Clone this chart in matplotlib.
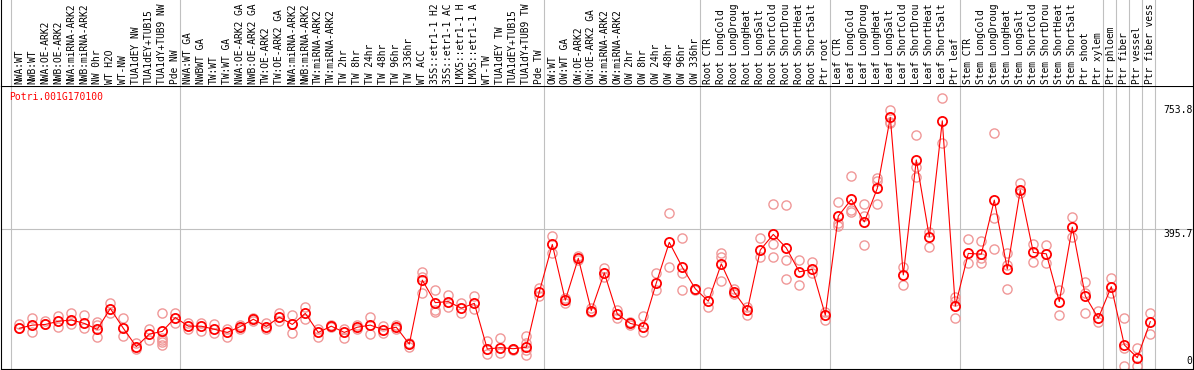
import matplotlib.pyplot as plt
import numpy as np
from matplotlib.transforms import blended_transform_factory

gene = "Potri.001G170100"

# sample names, one list per block (blocks are split by grey lines)
nw_labels = ["NWA:WT", "NWB:WT", "NWA:OE-ARK2", "NWB:OE-ARK2", "NWA:miRNA-ARK2",
             "NWB:miRNA-ARK2", "NW 0hr", "WT H2O", "WT-NW", "TUA1dEY NW",
             "TUA1dEY+TUB15", "TUA1dY+TUB9 NW", "Pde NW"]
tw_labels = ["NWA:WT GA", "NWBWT GA", "TW:WT", "TW:WT GA", "NWA:OE-ARK2 GA",
             "NWB:OE-ARK2 GA", "TW:OE-ARK2", "TW:OE-ARK2 GA", "NWA:miRNA-ARK2",
             "NWB:miRNA-ARK2", "TW:miRNA-ARK2", "TW:miRNA-ARK2", "TW 2hr", "TW 8hr",
             "TW 24hr", "TW 48hr", "TW 96hr", "TW 336hr", "WT ACC", "35S::etr1-1 H2O",
             "35S::etr1-1 ACC", "LMX5::etr1-1 H2O", "LMX5::etr1-1 ACC", "WT-TW",
             "TUA1dEY TW", "TUA1dEY+TUB15", "TUA1dY+TUB9 TW", "Pde TW"]
ow_labels = ["OW:WT", "OW:WT GA", "OW:OE-ARK2", "OW:OE-ARK2 GA", "OW:miRNA-ARK2",
             "OW:miRNA-ARK2", "OW 2hr", "OW 8hr", "OW 24hr", "OW 48hr", "OW 96hr", "OW 336hr"]
root_labels = ["Root CTR", "Root LongCold", "Root LongDrought", "Root LongHeat",
               "Root LongSalt", "Root ShortCold", "Root ShortDrought", "Root ShortHeat",
               "Root ShortSalt", "Ptr root"]
leaf_labels = ["Leaf CTR", "Leaf LongCold", "Leaf LongDrought", "Leaf LongHeat",
               "Leaf LongSalt", "Leaf ShortCold", "Leaf ShortDrought", "Leaf ShortHeat",
               "Leaf ShortSalt", "Ptr leaf"]
stem_labels = ["Stem CTR", "Stem LongCold", "Stem LongDrought", "Stem LongHeat",
               "Stem LongSalt", "Stem ShortCold", "Stem ShortDrought", "Stem ShortHeat",
               "Stem ShortSalt", "Ptr shoot", "Ptr xylem"]
tissue_labels = [["Ptr phloem"], ["Ptr fiber"], ["Ptr vessel"], ["Ptr fiber vessel"]]

blocks = [nw_labels, tw_labels, ow_labels, root_labels, leaf_labels, stem_labels] + tissue_labels
labels = [l for b in blocks for l in b]
max_chars = 14  # the header cuts names to this length

# mean expression per sample
means = [109, 118, 120, 129, 133, 123, 106, 166, 109, 56, 92, 100, 140,
         115, 115, 106, 97, 114, 135, 114, 141, 120, 152, 97, 115, 97, 112, 118, 105, 112,
         63, 248, 183, 186, 167, 181, 49, 53, 50, 54, 214,
         351, 190, 311, 160, 269, 150, 123, 114, 240, 357, 285,
         223, 187, 295, 213, 161, 335, 380, 341, 272, 279, 147,
         433, 481, 416, 513, 718, 263, 595, 373, 708, 173,
         325, 323, 479, 280, 508, 328, 324, 186, 401, 202, 138,
         229, 61, 24, 128]

# individual replicates per sample
replicates = [
    [120, 109], [138, 99], [131, 120], [144, 114], [152, 120], [146, 109], [128, 118, 85],
    [183, 152], [138, 87], [66, 50], [106, 75], [154, 82, 75, 68, 61], [154, 125],
    [123, 106], [125, 102], [121, 94], [106, 85], [118, 106], [138, 131], [123, 106],
    [152, 131], [146, 94], [170, 135], [106, 85], [118, 112], [108, 80], [118, 106],
    [141, 92], [116, 96], [118, 106], [67, 56],
    [272, 258, 210], [220, 162, 157], [205, 170], [183, 154], [202, 164], [73, 34],
    [80, 37], [50, 46], [87, 66, 46, 32], [224, 202],
    [375, 325], [196, 183], [318, 306], [167, 157], [282, 258], [162, 138], [126, 118],
    [144, 99], [268, 220], [441, 285], [369, 268, 220],
    [223, 220], [213, 171], [325, 316, 246], [222, 208], [171, 146], [369, 316],
    [467, 351, 316], [464, 306, 251], [306, 234], [301, 268],
    [157, 133], [474, 414, 404], [549, 451, 446], [467, 433, 349], [542, 535, 467],
    [739, 706, 701], [287, 234], [667, 576, 545], [388, 345], [773, 643],
    [200, 189, 138], [367, 297], [361, 311, 297], [672, 427, 338], [325, 292, 222],
    [528, 499], [352, 301], [349, 297], [220, 147], [431, 373],
    [243, 210, 154], [160, 126], [253, 210], [138, 51, 0], [51, 0], [152, 92],
]

y_ticks = [753.8, 395.7, 0]

# ---------------------------------------------------------------- layout (pixels)
W, H = 1194, 370
x_first, x_step = 19.3, 13.0
frame_l, frame_r = 1, 1193
head_h, plot_b = 85.7, 369
y_zero, px_per_unit = 366, 0.3463

grey = "#c0c0c0"
mono = "DejaVu Sans Mono"

fig = plt.figure(figsize=(W / 100, H / 100), dpi=100)
ax = fig.add_axes([frame_l / W, 1 - plot_b / H, (frame_r - frame_l) / W, (plot_b - head_h) / H])
hax = fig.add_axes([frame_l / W, 1 - head_h / H, (frame_r - frame_l) / W, head_h / H])

xlim = ((frame_l - x_first) / x_step, (frame_r - x_first) / x_step)
for a in (ax, hax):
    a.set_xlim(*xlim)
    a.set_xticks([])
    a.set_yticks([])
ax.set_ylim((y_zero - plot_b) / px_per_unit, (y_zero - head_h) / px_per_unit)
hax.set_ylim(0, 1)

for s in ax.spines.values():
    s.set_linewidth(0.8)
    s.set_color("black")
for name, s in hax.spines.items():
    s.set_linewidth(0.8)
    s.set_visible(name in ("left", "right"))

# grey block separators
ends = np.cumsum([len(b) for b in blocks]) - 1
bounds = np.concatenate([[-1], ends]) + 0.37
for b in bounds:
    ax.axvline(b, color=grey, lw=0.8, zorder=0)
    hax.axvline(b, color=grey, lw=0.8, zorder=0)

ax.axhline(y_ticks[1], color=grey, lw=0.8, zorder=0)

x = np.arange(len(labels))

# header labels
htrans = blended_transform_factory(hax.transData, hax.transAxes)
for i, lab in enumerate(labels):
    hax.text(i, 0.02, lab[:max_chars], rotation=90, ha="center", va="bottom",
             fontsize=6.9, family=mono, transform=htrans, clip_on=True)

# replicates
rx = [i for i, r in enumerate(replicates) for _ in r]
ry = [v for r in replicates for v in r]
ax.plot(rx, ry, "o", ms=6.6, mfc="none", mec="#f09898", mew=1.0, zorder=2)

# means
ax.plot(x, means, color="red", lw=0.8, marker="o", ms=6.6, mfc="none",
        mec="red", mew=1.3, zorder=3)

ytrans = blended_transform_factory(ax.transAxes, ax.transData)
for t in y_ticks:
    ax.text(0.9995, t, f"{t:g}" if t == 0 else f"{t:.1f}", transform=ytrans,
            ha="right", va="bottom" if t == 0 else "top", fontsize=7, family=mono)

ax.text((9.5 - frame_l) / (frame_r - frame_l), 0.96, gene, transform=ax.transAxes,
        ha="left", va="center", fontsize=7, family=mono, color="red")

fig.savefig("out.png", dpi=100)
